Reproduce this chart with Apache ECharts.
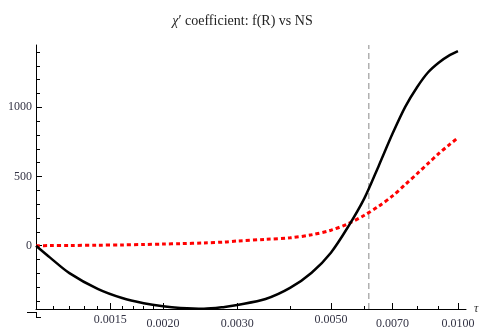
<!DOCTYPE html>
<html>
<head>
<meta charset="utf-8">
<script src="https://cdn.jsdelivr.net/npm/echarts@6/dist/echarts.min.js"></script>
<style>
  html, body { margin: 0; padding: 0; background: #fff; }
  #chart { width: 485px; height: 330px; }
</style>
</head>
<body>
<div id="chart"></div>
<script>
// τ values (log x axis)
const tau = [0.001, 0.00108, 0.0012, 0.0014, 0.0016, 0.0018, 0.002, 0.0022, 0.0025, 0.0028, 0.003,
    0.0035, 0.004, 0.0045, 0.005, 0.0055, 0.006, 0.0065, 0.007, 0.0075, 0.008, 0.0085, 0.009, 0.0095, 0.01];
// f(R) - black solid
const fR = [0, -86, -198, -312, -378, -415, -437, -449, -455, -442, -428,
    -385, -305, -195, -50, 140, 342, 582, 810, 1003, 1145, 1253, 1322, 1371, 1405];
// NS - red dotted
const ns = [0, 1, 2, 4, 6, 9, 12, 15, 20, 27, 34,
    46, 57, 79, 112, 160, 220, 287, 360, 442, 520, 595, 665, 725, 780];

const xMajor = [0.0015, 0.002, 0.003, 0.005, 0.007, 0.01];
const xUpper = [0.0015, 0.005];   // staggered labels sitting on the upper row
const xMinor = [0.0011, 0.0012, 0.0013, 0.0014, 0.0016, 0.0017, 0.0018, 0.0019, 0.004, 0.006, 0.008, 0.009];
const yMajor = [0, 500, 1000];
const yMinor = [-400, -300, -200, -100, 100, 200, 300, 400, 600, 700, 800, 900, 1100, 1200, 1300, 1400];
const tauMark = 0.00615;

const xMin = 0.001, xMax = 0.01045;
const yMin = -457, yMax = 1450;
const serif = '"Liberation Serif", "DejaVu Serif", serif';
const labelColor = '#334';

const zip = (xs, ys) => xs.map((x, i) => [x, ys[i]]);

const chart = echarts.init(document.getElementById('chart'));
chart.setOption({
    animation: false,
    title: {
        text: '{i|χ}′ coefficient: f(R) vs NS',
        left: 'center',
        top: 9,
        textStyle: {
            fontFamily: serif, fontSize: 14, fontWeight: 'normal', color: '#222',
            rich: { i: { fontFamily: serif, fontSize: 14, fontStyle: 'italic', color: '#222' } }
        }
    },
    grid: { left: 36, right: 19, top: 45, bottom: 18 },
    xAxis: [{
        type: 'log', min: xMin, max: xMax, logBase: 10,
        position: 'bottom',
        name: 'τ', nameLocation: 'end', nameGap: 8,
        nameTextStyle: { fontFamily: serif, fontStyle: 'italic', fontSize: 12, color: '#333' },
        axisLine: { show: true, onZero: false, lineStyle: { color: '#000', width: 1 } },
        axisTick: { show: true, inside: true, length: 6, customValues: xMajor, lineStyle: { color: '#000' } },
        axisLabel: {
            customValues: xMajor, margin: 5, fontFamily: serif, fontSize: 12, color: labelColor,
            formatter: v => {
                const up = xUpper.some(u => Math.abs(u - v) < 1e-7);
                return (up ? '{u|' : '{d|') + v.toFixed(4) + '}';
            },
            rich: {
                u: { fontFamily: serif, fontSize: 12, color: labelColor, padding: [0, 0, 0, 0] },
                d: { fontFamily: serif, fontSize: 12, color: labelColor, padding: [4, 0, 0, 0] }
            }
        },
        splitLine: { show: false }
    }, {
        type: 'log', min: xMin, max: xMax, logBase: 10,
        position: 'bottom',
        axisLine: { show: false, onZero: false },
        axisTick: { show: true, inside: true, length: 3, customValues: xMinor, lineStyle: { color: '#000' } },
        axisLabel: { show: false },
        splitLine: { show: false }
    }],
    yAxis: [{
        type: 'value', min: yMin, max: yMax,
        position: 'left',
        axisLine: { show: true, onZero: false, lineStyle: { color: '#000', width: 1 } },
        axisTick: { show: true, inside: true, length: 6, customValues: yMajor, lineStyle: { color: '#000' } },
        axisLabel: {
            customValues: yMajor, margin: 4, fontFamily: serif, fontSize: 12, color: labelColor,
            formatter: v => String(v)
        },
        splitLine: { show: false }
    }, {
        type: 'value', min: yMin, max: yMax,
        position: 'left',
        axisLine: { show: false, onZero: false },
        axisTick: { show: true, inside: true, length: 4, customValues: yMinor, lineStyle: { color: '#000' } },
        axisLabel: { show: false },
        splitLine: { show: false }
    }],
    // little overhangs where Mathematica's axes meet
    graphic: [
        { type: 'line', shape: { x1: 27, y1: 312.5, x2: 36, y2: 312.5 }, style: { stroke: '#000', lineWidth: 1 } },
        { type: 'line', shape: { x1: 36.5, y1: 312, x2: 36.5, y2: 318 }, style: { stroke: '#000', lineWidth: 1 } },
        { type: 'line', shape: { x1: 36, y1: 317.5, x2: 41, y2: 317.5 }, style: { stroke: '#000', lineWidth: 1 } }
    ],
    series: [{
        name: 'marker',
        type: 'line',
        data: [[tauMark, yMin], [tauMark, yMax]],
        showSymbol: false,
        silent: true,
        lineStyle: { color: '#888', width: 1, type: [6, 4] },
        z: 2
    }, {
        name: 'NS',
        type: 'line',
        data: zip(tau, ns),
        showSymbol: false,
        smooth: 0.3,
        lineStyle: { color: '#ff0000', width: 3, type: [4, 3] },
        z: 3
    }, {
        name: 'f(R)',
        type: 'line',
        data: zip(tau, fR),
        showSymbol: false,
        smooth: 0.3,
        lineStyle: { color: '#000', width: 2.5 },
        z: 4
    }]
});
</script>
</body>
</html>
